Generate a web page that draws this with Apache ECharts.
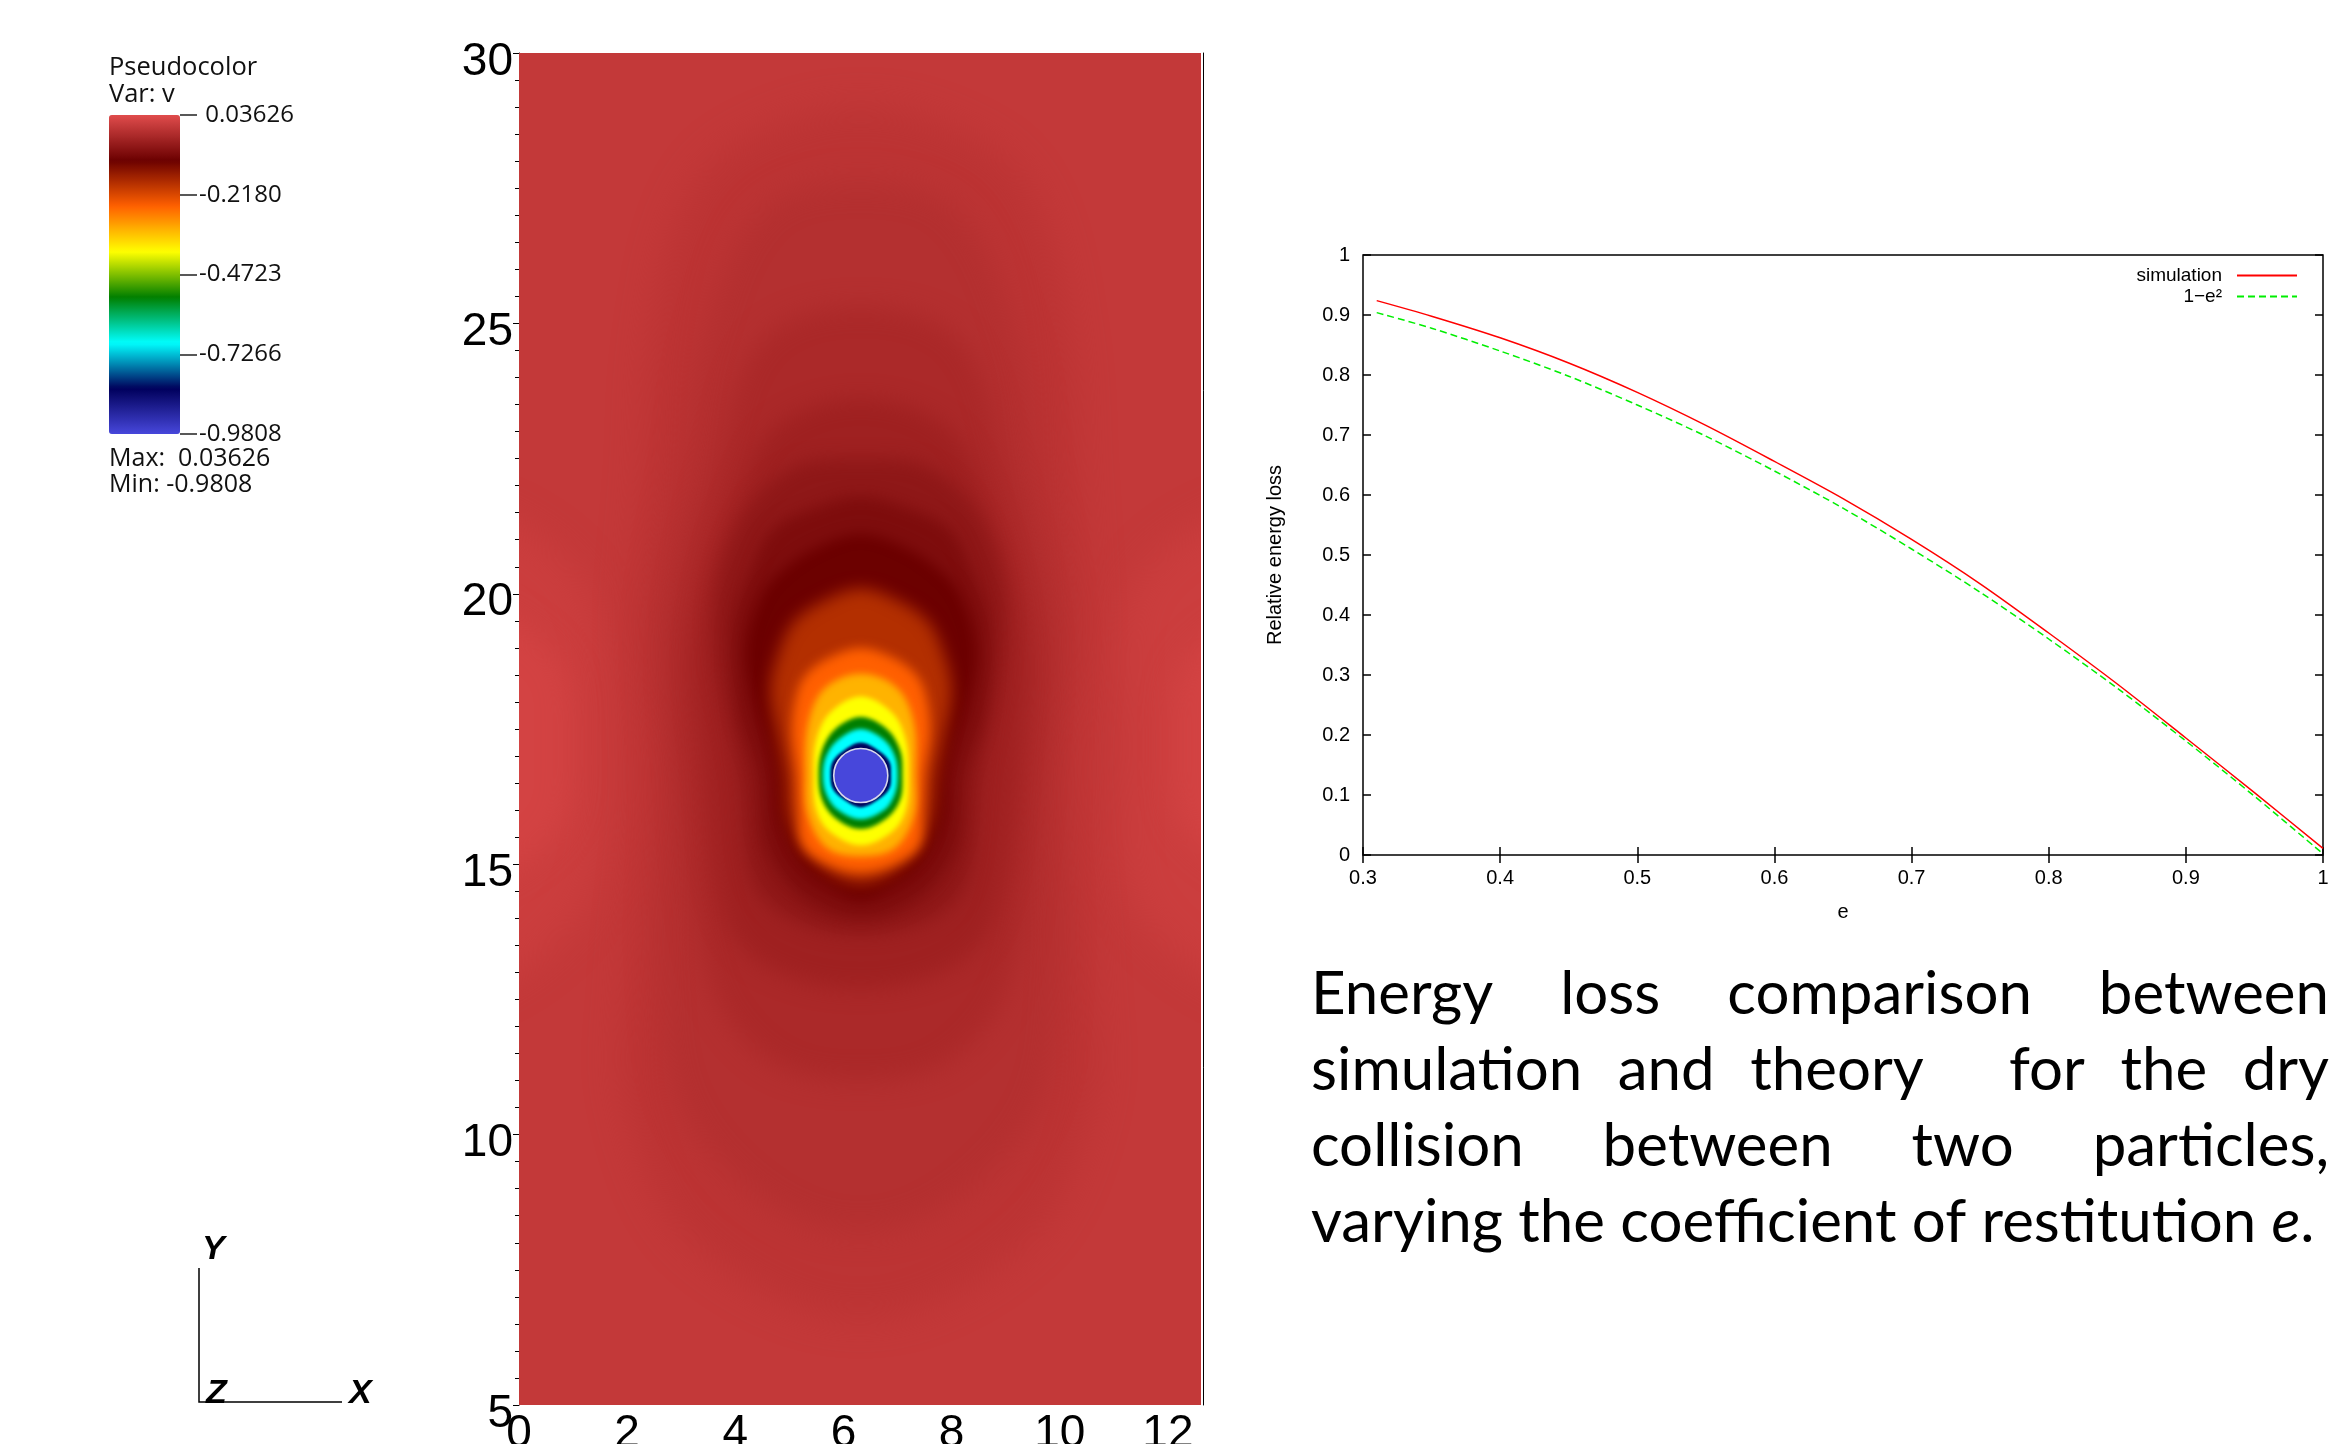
<!DOCTYPE html>
<html>
<head>
<meta charset="utf-8">
<script src="https://cdn.jsdelivr.net/npm/echarts@6/dist/echarts.min.js"></script>
<style>
html,body{margin:0;padding:0;background:#ffffff;}
#chart{width:2352px;height:1444px;}
</style>
</head>
<body>
<div id="chart"></div>
<script>
// ================= DATA =================
// Pseudocolor legend (Var: v)
const fieldMin = -0.9808;
const fieldMax = 0.03626;
const colorbarTicks = [0.03626, -0.2180, -0.4723, -0.7266, -0.9808];
const colorbarTickLabels = ['\u00a00.03626', '-0.2180', '-0.4723', '-0.7266', '-0.9808'];

// Field plot axes
const fieldXTicks = [0, 2, 4, 6, 8, 10, 12];
const fieldYTicks = [5, 10, 15, 20, 25, 30];

// Field v: iso-level values (outer -> inner)
const fieldLevelValues = [0, 0.01, 0.02, 0.01, 0.02, -0.009, -0.018, -0.03, -0.045, -0.064, -0.085, -0.11, -0.18, -0.254, -0.33, -0.40, -0.545, -0.69, -0.835];
// Each iso-level outline: rows of [y, xLeft, xRight] in data units (top -> bottom)
const fieldLevelRows = [
  [[30.5, -1, 13.6], [4.5, -1, 13.6]],
  [[21.6, -1, -1], [20.2, -1, 1.2], [17.2, -1, 1.6], [14.2, -1, 1.2], [12.6, -1, -1]],
  [[19.8, -1, -1], [18.8, -1, 0.7], [17.2, -1, 0.95], [15.6, -1, 0.7], [14.6, -1, -1]],
  [[21.6, 13.6, 13.6], [20.2, 11.4, 13.6], [17.2, 11.2, 13.6], [14.2, 11.4, 13.6], [12.6, 13.6, 13.6]],
  [[19.6, 13.6, 13.6], [18.7, 12.3, 13.6], [17.2, 12.1, 13.6], [15.7, 12.3, 13.6], [14.8, 13.6, 13.6]],
  [[29.0, 6.32, 6.32], [28.3, 4.0, 8.65], [27.1, 3.0, 9.65], [24.7, 2.45, 10.2], [22.3, 2.3, 10.35], [19.4, 2.1, 10.5], [16.65, 2.3, 10.35], [12.9, 2.0, 10.6], [10.5, 2.0, 10.6], [8.0, 3.2, 9.4], [6.6, 6.32, 6.32]],
  [[27.6, 6.32, 6.32], [27.1, 4.5, 8.1], [24.7, 3.4, 9.25], [22.3, 3.0, 9.65], [19.4, 2.5, 10.1], [16.65, 2.65, 9.95], [12.9, 2.6, 10.0], [10.5, 3.0, 9.6], [8.8, 4.5, 8.1], [8.2, 6.32, 6.32]],
  [[25.3, 6.32, 6.32], [24.7, 4.5, 8.15], [22.3, 3.6, 9.05], [19.4, 2.9, 9.7], [16.65, 3.0, 9.6], [12.9, 3.5, 9.1], [11.4, 4.6, 8.0], [11.0, 6.32, 6.32]],
  [[23.6, 6.32, 6.32], [23.2, 4.9, 7.75], [22.3, 4.2, 8.45], [19.4, 3.3, 9.3], [16.65, 3.45, 9.2], [14.0, 3.8, 8.8], [13.1, 4.6, 8.0], [12.7, 6.32, 6.32]],
  [[22.5, 6.32, 6.32], [22.3, 5.0, 7.65], [21.2, 4.0, 8.65], [19.4, 3.6, 9.0], [16.65, 4.05, 8.55], [14.7, 4.3, 8.3], [14.0, 5.0, 7.65], [13.7, 6.32, 6.32]],
  [[21.8, 6.32, 6.32], [21.6, 5.5, 7.15], [21.2, 4.7, 7.95], [20.5, 4.3, 8.35], [19.4, 3.95, 8.7], [17.8, 4.05, 8.6], [16.65, 4.4, 8.25], [15.3, 4.55, 8.1], [14.4, 5.2, 7.45], [14.0, 6.32, 6.32]],
  [[21.1, 6.32, 6.32], [20.9, 5.6, 7.05], [20.5, 4.95, 7.7], [20.0, 4.5, 8.15], [19.0, 4.2, 8.45], [18.0, 4.35, 8.3], [17.2, 4.6, 8.05], [16.65, 4.72, 7.92], [15.8, 4.8, 7.85], [15.0, 5.2, 7.45], [14.6, 5.7, 6.95], [14.35, 6.32, 6.32]],
  [[20.1, 6.32, 6.32], [19.9, 5.7, 6.95], [19.5, 5.1, 7.55], [18.9, 4.8, 7.85], [18.2, 4.65, 8.0], [17.3, 4.8, 7.85], [16.65, 4.92, 7.72], [15.8, 5.0, 7.62], [15.1, 5.4, 7.25], [14.65, 6.32, 6.32]],
  [[19.0, 6.32, 6.32], [18.85, 5.8, 6.85], [18.55, 5.35, 7.3], [18.2, 5.15, 7.5], [17.5, 5.05, 7.6], [16.65, 5.14, 7.49], [16.0, 5.17, 7.46], [15.35, 5.25, 7.4], [15.0, 5.7, 6.95], [14.85, 6.32, 6.32]],
  [[18.52, 6.32, 6.32], [18.25, 5.65, 7.0], [17.6, 5.35, 7.3], [16.65, 5.3, 7.33], [15.9, 5.35, 7.3], [15.3, 5.7, 6.95], [15.15, 6.32, 6.32]],
  [[18.1, 6.32, 6.32], [17.8, 5.75, 6.9], [17.3, 5.5, 7.15], [16.65, 5.45, 7.2], [16.0, 5.5, 7.15], [15.6, 5.75, 6.9], [15.35, 6.32, 6.32]],
  [[17.72, 6.32, 6.32], [17.5, 5.85, 6.8], [17.1, 5.6, 7.05], [16.65, 5.54, 7.09], [16.2, 5.6, 7.05], [15.85, 5.85, 6.8], [15.65, 6.32, 6.32]],
  [[17.5, 6.32, 6.32], [17.3, 5.9, 6.75], [17.0, 5.68, 6.95], [16.65, 5.62, 7.0], [16.3, 5.68, 6.95], [16.0, 5.9, 6.75], [15.83, 6.32, 6.32]],
  [[17.25, 6.32, 6.32], [17.1, 6.0, 6.65], [16.9, 5.8, 6.85], [16.65, 5.76, 6.88], [16.4, 5.8, 6.85], [16.2, 6.0, 6.65], [16.05, 6.32, 6.32]]
];
// Particle (disc)
const particleCenter = [6.32, 16.64];
const particleRadius = 0.5;
const particleValue = -0.9808;

// Energy loss chart
const restitution = [0.31, 0.35, 0.40, 0.45, 0.50, 0.55, 0.60, 0.65, 0.70, 0.75, 0.80, 0.85, 0.90, 0.95, 1.00];
const simulationLoss = [0.924, 0.898, 0.862, 0.820, 0.771, 0.716, 0.656, 0.594, 0.526, 0.452, 0.370, 0.285, 0.195, 0.104, 0.011];
const theoryLoss = [0.904, 0.878, 0.840, 0.798, 0.750, 0.698, 0.640, 0.578, 0.510, 0.438, 0.360, 0.278, 0.190, 0.098, 0.002];

// Caption
const captionJustifiedLines = [
  'Energy loss comparison between',
  'simulation and theory   for the dry',
  'collision between two particles,'
];
const captionLastLine = 'varying the coefficient of restitution ';
const captionSymbol = 'e';

// ================= STYLE =================
const hotDesaturated = ['#4747db', '#00005b', '#00ffff', '#007f00', '#ffff00', '#ff6000', '#6b0000', '#e04c4c'];
const fieldBlur = [0, 36, 30, 36, 30, 34, 30, 26, 22, 18, 15, 13, 16, 11, 7, 5, 4, 4, 3, 0];
const visitFont = 'Open Sans';
const gpFont = 'Liberation Sans';
const captionFont = 'Lato';
const captionSize = 60;
const captionLeft = 1311, captionRight = 2329;
const captionY = [995, 1071, 1147, 1223];
const SHADOW_SHIFT = 6000;

// ================= BUILD =================
const fieldData = fieldLevelValues.map((v, i) => [v, i]);
fieldData.push([particleValue, fieldLevelRows.length]);

function renderField(params, api) {
  const i = api.value(1);
  const color = api.visual('color');
  if (i === fieldLevelRows.length) {
    const c = api.coord(particleCenter);
    const r = api.size([particleRadius, 0])[0];
    return {
      type: 'circle',
      shape: {cx: c[0], cy: c[1], r: r},
      style: {fill: color, stroke: '#d8d8ea', lineWidth: 1.6}
    };
  }
  const rows = fieldLevelRows[i];
  const pts = [];
  rows.forEach(r => pts.push(api.coord([r[2], r[0]])));
  for (let k = rows.length - 1; k >= 0; k--) {
    const r = rows[k];
    if (r[1] !== r[2]) pts.push(api.coord([r[1], r[0]]));
  }
  const blur = fieldBlur[i] || 0;
  if (!blur) {
    return {type: 'polygon', shape: {points: pts}, style: {fill: color}};
  }
  // draw only the blurred silhouette (shape itself shifted away, shadow brought back)
  const shifted = pts.map(p => [p[0] + SHADOW_SHIFT, p[1]]);
  return {
    type: 'polygon',
    shape: {points: shifted, smooth: 0.35},
    style: {fill: color, shadowBlur: blur, shadowColor: color, shadowOffsetX: -SHADOW_SHIFT, shadowOffsetY: 0}
  };
}

// caption layout (justified)
const measureCtx = document.createElement('canvas').getContext('2d');
measureCtx.font = captionSize + 'px ' + captionFont;
const captionElements = [];
captionJustifiedLines.forEach((line, li) => {
  const parts = line.split(/( +)/);
  const words = [], gaps = [];
  parts.forEach((p, k) => { if (k % 2 === 0) words.push(p); else gaps.push(1 + 0.7 * (p.length - 1)); });
  const wordW = words.map(w => measureCtx.measureText(w).width);
  const total = wordW.reduce((a, b) => a + b, 0);
  const nSpaces = gaps.reduce((a, b) => a + b, 0);
  const unit = (captionRight - captionLeft - total) / nSpaces;
  let x = captionLeft;
  words.forEach((w, k) => {
    captionElements.push({
      type: 'text', x: x, y: captionY[li],
      style: {text: w, fontSize: captionSize, fontFamily: captionFont, fill: '#000', verticalAlign: 'middle', align: 'left'}
    });
    x += wordW[k] + (k < gaps.length ? gaps[k] * unit : 0);
  });
});
captionElements.push({
  type: 'text', x: captionLeft, y: captionY[3],
  style: {
    text: captionLastLine + '{i|' + captionSymbol + '}.',
    fontSize: captionSize, fontFamily: captionFont, fill: '#000', verticalAlign: 'middle', align: 'left',
    rich: {i: {fontSize: captionSize, fontFamily: captionFont, fontStyle: 'italic', fill: '#000'}}
  }
});

function visitText(text, x, y, size) {
  return {
    type: 'text', x: x, y: y,
    style: {text: text, fontSize: size, fontFamily: visitFont, fill: '#111', verticalAlign: 'middle', align: 'left'}
  };
}
function triadText(text, x, y) {
  return {
    type: 'text', x: x, y: y,
    style: {text: text, fontSize: 34, fontFamily: 'Liberation Sans', fontWeight: 'bold', fontStyle: 'italic', fill: '#000', verticalAlign: 'middle', align: 'left'}
  };
}

const chart = echarts.init(document.getElementById('chart'), null, {renderer: 'canvas'});
const option = {
  animation: false,
  backgroundColor: '#ffffff',
  grid: [
    {left: 519, top: 53, width: 681.4, height: 1352, containLabel: false, outerBoundsMode: 'none'},
    {left: 180, top: 115, width: 1, height: 319, outerBoundsMode: 'none'},
    {left: 1363, top: 255, width: 960, height: 600, show: true, borderColor: '#000', borderWidth: 1.5,
      backgroundColor: 'transparent', outerBoundsMode: 'none'}
  ],
  xAxis: [
    {gridIndex: 0, type: 'value', min: 0, max: 12.6,
      axisLine: {show: false}, axisTick: {show: false}, splitLine: {show: false},
      axisLabel: {customValues: fieldXTicks, fontSize: 46, fontFamily: 'Liberation Sans', color: '#000', margin: 6}},
    {gridIndex: 1, type: 'value', min: 0, max: 1, show: false},
    {gridIndex: 2, type: 'value', min: 0.3, max: 1, interval: 0.1,
      axisLine: {show: false}, splitLine: {show: false},
      axisTick: {show: true, inside: true, length: 8, lineStyle: {color: '#000', width: 1.5}},
      axisLabel: {fontSize: 20, fontFamily: gpFont, color: '#000', margin: 13},
      name: 'e', nameLocation: 'middle', nameGap: 47,
      nameTextStyle: {fontSize: 20, fontFamily: gpFont, color: '#000'}},
    {gridIndex: 2, type: 'value', position: 'top', min: 0.3, max: 1, interval: 0.1,
      axisLine: {show: false}, splitLine: {show: false}, axisLabel: {show: false},
      axisTick: {show: true, inside: true, length: 8, lineStyle: {color: '#000', width: 1.5}}}
  ],
  yAxis: [
    {gridIndex: 0, type: 'value', min: 5, max: 30, interval: 5,
      axisLine: {show: true, lineStyle: {color: '#000', width: 1}},
      axisTick: {show: true, length: 6, lineStyle: {color: '#000', width: 1}},
      minorTick: {show: true, splitNumber: 10, length: 4, lineStyle: {color: '#000', width: 1}},
      splitLine: {show: false}, minorSplitLine: {show: false},
      axisLabel: {customValues: fieldYTicks, fontSize: 46, fontFamily: 'Liberation Sans', color: '#000', margin: 6,
        verticalAlign: 'top', lineHeight: 18}},
    {gridIndex: 0, type: 'value', position: 'right', offset: 3, min: 5, max: 30,
      axisLine: {show: true, lineStyle: {color: '#000', width: 1}},
      axisTick: {show: false}, axisLabel: {show: false}, splitLine: {show: false}},
    {gridIndex: 1, type: 'value', position: 'right', min: fieldMin, max: fieldMax,
      axisLine: {show: false}, splitLine: {show: false},
      axisTick: {show: true, customValues: colorbarTicks, length: 17, lineStyle: {color: '#222', width: 1.5}},
      axisLabel: {customValues: colorbarTicks, fontSize: 24, fontFamily: visitFont, color: '#111', margin: 18,
        formatter: function (v) {
          for (let k = 0; k < colorbarTicks.length; k++) if (Math.abs(colorbarTicks[k] - v) < 1e-6) return colorbarTickLabels[k];
          return '';
        }}},
    {gridIndex: 2, type: 'value', min: 0, max: 1, interval: 0.1,
      axisLine: {show: false}, splitLine: {show: false},
      axisTick: {show: true, inside: true, length: 8, lineStyle: {color: '#000', width: 1.5}},
      axisLabel: {fontSize: 20, fontFamily: gpFont, color: '#000', margin: 13},
      name: 'Relative energy loss', nameLocation: 'middle', nameGap: 78, nameRotate: 90,
      nameTextStyle: {fontSize: 20, fontFamily: gpFont, color: '#000'}},
    {gridIndex: 2, type: 'value', position: 'right', min: 0, max: 1, interval: 0.1,
      axisLine: {show: false}, splitLine: {show: false}, axisLabel: {show: false},
      axisTick: {show: true, inside: true, length: 8, lineStyle: {color: '#000', width: 1.5}}}
  ],
  visualMap: [{
    type: 'continuous', min: fieldMin, max: fieldMax, dimension: 0, seriesIndex: 0,
    inRange: {color: hotDesaturated},
    left: 109, top: 115, itemWidth: 71, itemHeight: 319, padding: 0,
    calculable: false, realtime: false, hoverLink: false, text: null, showLabel: false
  }],
  legend: [
    {data: ['simulation'], right: 54, top: 266, align: 'right', padding: 0, itemWidth: 60, itemHeight: 12,
      selectedMode: false, itemStyle: {opacity: 0},
      textStyle: {fontSize: 19, fontFamily: gpFont, color: '#000', padding: [0, 10, 0, 0]}},
    {data: ['1−e²'], right: 54, top: 287, align: 'right', padding: 0, itemWidth: 60, itemHeight: 12,
      selectedMode: false, itemStyle: {opacity: 0},
      textStyle: {fontSize: 19, fontFamily: gpFont, color: '#000', padding: [0, 10, 0, 0]}}
  ],
  series: [
    {type: 'custom', xAxisIndex: 0, yAxisIndex: 0, clip: true, silent: true,
      renderItem: renderField, data: fieldData},
    {type: 'line', name: 'simulation', xAxisIndex: 2, yAxisIndex: 3, symbol: 'none', smooth: 0.3, silent: true,
      data: restitution.map((e, i) => [e, simulationLoss[i]]),
      lineStyle: {color: '#ff0000', width: 1.5}, itemStyle: {color: '#ff0000'}},
    {type: 'line', name: '1−e²', xAxisIndex: 2, yAxisIndex: 3, symbol: 'none', smooth: 0.3, silent: true,
      data: restitution.map((e, i) => [e, theoryLoss[i]]),
      lineStyle: {color: '#00ee00', width: 1.5, type: [7, 4]}, itemStyle: {color: '#00ee00'}}
  ],
  graphic: {elements: [
    visitText('Pseudocolor', 109, 68, 25.5),
    visitText('Var: v', 109, 95, 25.5),
    visitText('Max:  0.03626', 109, 459, 25),
    visitText('Min: -0.9808', 109, 485, 25),
    {type: 'polyline', shape: {points: [[199, 1268], [199, 1402], [342, 1402]]}, style: {stroke: '#000', lineWidth: 1.5, fill: null}},
    triadText('Y', 202, 1250),
    triadText('Z', 206, 1394),
    triadText('X', 349, 1394)
  ].concat(captionElements)}
};
chart.setOption(option);
</script>
</body>
</html>
